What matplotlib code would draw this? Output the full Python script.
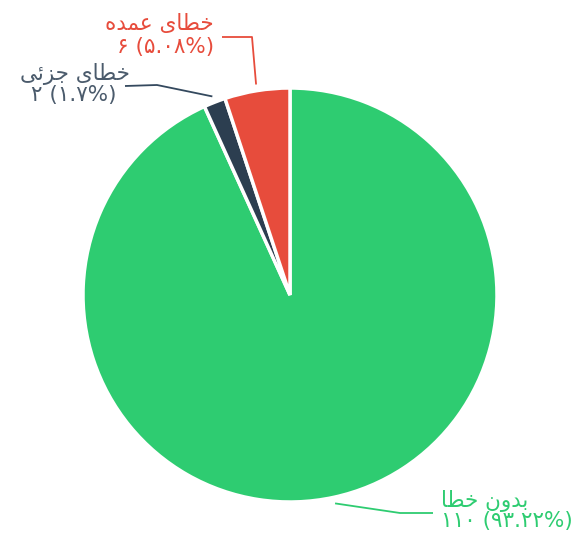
import matplotlib
import matplotlib.pyplot as plt
import numpy as np

matplotlib.use('agg')

# values
# (labels written as shaped Arabic presentation forms in visual order,
#  since matplotlib does no Arabic shaping / bidi)
labels = ['\uFE8E\uFEC4\uFEA7 \uFEE5\uFEED\uFEAA\uFE91',             # بدون خطا
          '\uFEF0\uFE8B\uFEB0\uFE9F \uFEEF\uFE8E\uFEC4\uFEA7',       # خطای جزئی
          '\uFEE9\uFEAA\uFEE4\uFECB \uFEEF\uFE8E\uFEC4\uFEA7']       # خطای عمده
counts = [110, 2, 6]
count_text = ['\u06F1\u06F1\u06F0 (\u06F9\u06F3.\u06F2\u06F2%)',
              '\u06F2 (\u06F1.\u06F7%)',
              '\u06F6 (\u06F5.\u06F0\u06F8%)']
colors = ['#2ecc71', '#2c3e50', '#e74c3c']
text_colors = ['#2ecc71', '#4b5b6c', '#e74c3c']

plt.rcParams['font.family'] = ['DejaVu Sans', 'Noto Sans']

W, H = 577, 538
CX, CY, R = 290, 295, 207


def px(x, y):
    # pixel (from top-left) -> data coords, pie radius = 1
    return (x - CX) / R, (CY - y) / R


fig = plt.figure(figsize=(W / 100, H / 100), dpi=100)
ax = fig.add_axes([0, 0, 1, 1])
wedges, _ = ax.pie(counts, colors=colors, startangle=90, counterclock=False,
                   radius=1, wedgeprops=dict(edgecolor='white', linewidth=2.5))
ax.set_xlim(px(0, 0)[0], px(W, 0)[0])
ax.set_ylim(px(0, H)[1], px(0, 0)[1])
ax.set_aspect('auto')
ax.axis('off')

# leader lines: (elbow, end) in pixels, text positions
elbows = [((400, 513), (433, 513)),
          ((157, 85), (125, 86)),
          ((252, 37), (222, 37))]
text_pos = [((441, 501), (441, 521), 'left', 'left'),
            ((130, 74), (116, 95), 'right', 'right'),
            ((214, 24), (214, 47), 'right', 'right')]

for i, w in enumerate(wedges):
    mid = np.deg2rad((w.theta1 + w.theta2) / 2)
    sx, sy = 1.03 * np.cos(mid), 1.03 * np.sin(mid)
    e1 = px(*elbows[i][0])
    e2 = px(*elbows[i][1])
    ax.plot([sx, e1[0], e2[0]], [sy, e1[1], e2[1]], color=colors[i] if i != 1 else '#34495e',
            lw=1.3, solid_capstyle='butt')
    (p1, p2, ha1, ha2) = text_pos[i]
    ax.text(*px(*p1), labels[i], color=text_colors[i], fontsize=15.5,
            ha=ha1, va='center')
    ax.text(*px(*p2), count_text[i], color=text_colors[i], fontsize=15.5,
            ha=ha2, va='center')

fig.savefig('out.png', dpi=100)
